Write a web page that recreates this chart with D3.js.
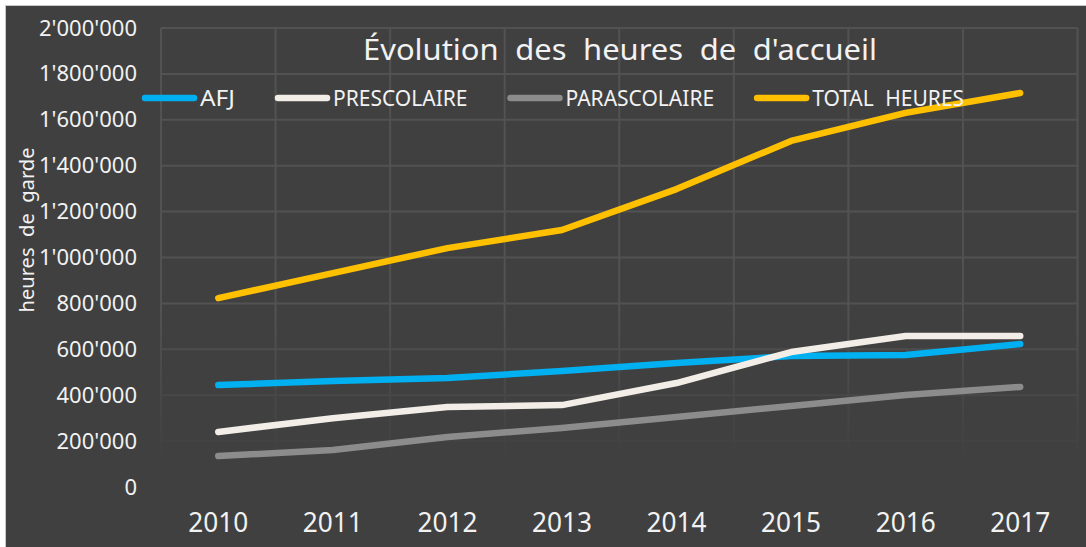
<!DOCTYPE html>
<html>
<head>
<meta charset="utf-8">
<script src="https://cdn.jsdelivr.net/npm/d3@7/dist/d3.min.js"></script>
<style>
  body { margin: 0; background: #ffffff; }
  svg { display: block; }
  .grid line { stroke: #525252; stroke-width: 2; }
  .axis path, .axis line { display: none; }
  .axis text { fill: #f2f2f2; font-family: 'Noto Sans', sans-serif; }
  .label { fill: #f2f2f2; font-family: 'Noto Sans', sans-serif; }
  .serie { fill: none; stroke-width: 6.5; stroke-linecap: round; stroke-linejoin: round; }
</style>
</head>
<body>
<svg id="chart" width="1086" height="547"></svg>
<script>
// données
const years = ['2010', '2011', '2012', '2013', '2014', '2015', '2016', '2017'];
const afj = [444000, 462000, 475000, 505000, 540000, 571000, 575000, 623000];
const prescolaire = [240000, 300000, 349000, 357000, 453000, 588000, 658000, 658000];
const parascolaire = [135000, 161000, 218000, 257000, 305000, 353000, 401000, 436000];
const totalHeures = [823000, 932000, 1041000, 1120000, 1298000, 1508000, 1630000, 1717000];
const seriesNames = ['AFJ', 'PRESCOLAIRE', 'PARASCOLAIRE', 'TOTAL HEURES'];
const seriesColors = ['#00b0f0', '#f2ede6', '#8c8c8c', '#ffc000'];
const yTicks = [0, 200000, 400000, 600000, 800000, 1000000, 1200000, 1400000, 1600000, 1800000, 2000000];
const titleText = "Évolution des heures de d'accueil";
const yTitle = 'heures de garde';

const W = 1086, H = 547;
const margin = { top: 28, left: 161, right: 8, bottom: 60 };

const svg = d3.select('#chart');

// fond
svg.append('rect')
  .attr('x', 5.5).attr('y', 5.5)
  .attr('width', W - 5).attr('height', H - 5)
  .attr('fill', '#404040')
  .attr('stroke', '#c8c8c8');

const scaleX = d3.scaleBand()
  .domain(years)
  .range([margin.left, W - margin.right - 0.5]);

const scaleY = d3.scaleLinear()
  .domain([0, 2000000])
  .range([H - margin.bottom, margin.top]);

// dégradé qui efface la grille vers le bas
const defs = svg.append('defs');
const grad = defs.append('linearGradient')
  .attr('id', 'fade')
  .attr('gradientUnits', 'userSpaceOnUse')
  .attr('x1', 0).attr('y1', margin.top)
  .attr('x2', 0).attr('y2', H - margin.bottom);
grad.append('stop').attr('offset', 0).attr('stop-color', '#fff');
grad.append('stop').attr('offset', 0.62).attr('stop-color', '#fff');
grad.append('stop').attr('offset', 0.95).attr('stop-color', '#000');
defs.append('mask').attr('id', 'gridMask')
  .append('rect')
  .attr('x', 0).attr('y', 0).attr('width', W).attr('height', H)
  .attr('fill', 'url(#fade)');

const grid = svg.append('g').attr('class', 'grid').attr('mask', 'url(#gridMask)');
grid.selectAll('line.h')
  .data(yTicks)
  .join('line')
  .attr('class', 'h')
  .attr('x1', scaleX.range()[0]).attr('x2', scaleX.range()[1])
  .attr('y1', d => scaleY(d)).attr('y2', d => scaleY(d));
grid.selectAll('line.v')
  .data(years.map(y => scaleX(y)).concat([scaleX.range()[1]]))
  .join('line')
  .attr('class', 'v')
  .attr('x1', d => d).attr('x2', d => d)
  .attr('y1', scaleY(2000000)).attr('y2', scaleY(0));

// axes
const fmt = d => d3.format(',')(d).replace(/,/g, "'");
const axisLeft = d3.axisLeft(scaleY)
  .tickValues(yTicks)
  .tickFormat(fmt)
  .tickSize(0)
  .tickPadding(24);
svg.append('g')
  .attr('class', 'axis')
  .attr('transform', `translate(${margin.left}, 0)`)
  .call(axisLeft)
  .selectAll('text')
  .style('font-size', '22px');

const axisBottom = d3.axisBottom(scaleX)
  .tickSize(0)
  .tickPadding(25);
const xg = svg.append('g')
  .attr('class', 'axis')
  .attr('transform', `translate(0, ${H - margin.bottom})`)
  .call(axisBottom);
xg.selectAll('text')
  .style('font-size', '28px')
  .attr('textLength', 60)
  .attr('lengthAdjust', 'spacingAndGlyphs');

// séries
const seriesValues = [afj, prescolaire, parascolaire, totalHeures];
const line = d3.line()
  .x((d, i) => scaleX(years[i]) + scaleX.bandwidth() / 2)
  .y(d => scaleY(d));

svg.append('g')
  .selectAll('path')
  .data(seriesValues)
  .join('path')
  .attr('class', 'serie')
  .attr('stroke', (d, i) => seriesColors[i])
  .attr('d', d => line(d));

// titre
svg.append('text')
  .attr('class', 'label')
  .attr('x', 620).attr('y', 60)
  .attr('text-anchor', 'middle')
  .style('font-size', '29px')
  .style('word-spacing', '8px')
  .attr('textLength', 514)
  .attr('lengthAdjust', 'spacingAndGlyphs')
  .text(titleText);

// titre de l'axe vertical
svg.append('text')
  .attr('class', 'label')
  .attr('transform', 'translate(34, 230) rotate(-90)')
  .attr('text-anchor', 'middle')
  .style('font-size', '19px')
  .style('word-spacing', '5px')
  .attr('textLength', 165)
  .attr('lengthAdjust', 'spacingAndGlyphs')
  .text(yTitle);

// légende
const legend = svg.append('g').attr('transform', 'translate(142, 98)');
let lx = 0;
seriesNames.forEach((name, i) => {
  const item = legend.append('g').attr('transform', `translate(${lx}, 0)`);
  item.append('line')
    .attr('x1', 3).attr('x2', 52)
    .attr('y1', 0).attr('y2', 0)
    .attr('stroke', seriesColors[i])
    .attr('stroke-width', 6.5)
    .attr('stroke-linecap', 'round');
  const t = item.append('text')
    .attr('class', 'label')
    .attr('x', 58).attr('y', 8)
    .style('font-size', '21px')
    .style('word-spacing', '6px')
    .text(name);
  const w = Math.max(35, t.node().getComputedTextLength());
  t.attr('textLength', w).attr('lengthAdjust', 'spacingAndGlyphs');
  lx += 58 + w + 40;
});
</script>
</body>
</html>
